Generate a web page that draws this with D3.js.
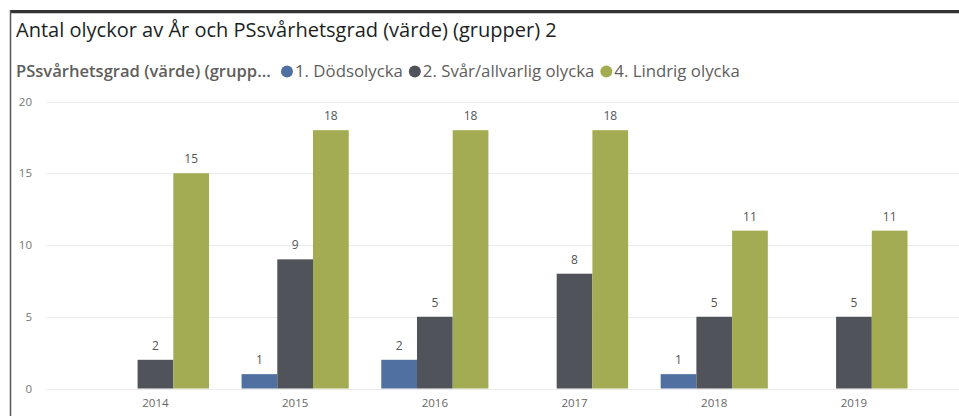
<!DOCTYPE html>
<html>
<head>
<meta charset="utf-8">
<script src="https://cdn.jsdelivr.net/npm/d3@7"></script>
<style>
  html, body { margin: 0; padding: 0; background: #fff; }
  svg { display: block; font-family: "Open Sans", "Noto Sans", sans-serif; }
</style>
</head>
<body>
<svg id="chart" width="959" height="416"></svg>
<script>
const years = ["2014", "2015", "2016", "2017", "2018", "2019"];
const seriesNames = ["1. Dödsolycka", "2. Svår/allvarlig olycka", "4. Lindrig olycka"];
const seriesColors = ["#4f70a1", "#505359", "#a3ac52"];
const dodsolycka = [null, 1, 2, null, 1, null];
const svarAllvarlig = [2, 9, 5, 8, 5, 5];
const lindrig = [15, 18, 18, 18, 11, 11];
const yTicks = [0, 5, 10, 15, 20];
const titleText = "Antal olyckor av År och PSsvårhetsgrad (värde) (grupper) 2";
const legendTitle = "PSsvårhetsgrad (värde) (grupp...";

const seriesValues = [dodsolycka, svarAllvarlig, lindrig];

const svg = d3.select("#chart");

// frame
svg.append("rect").attr("x", 10).attr("y", 13).attr("width", 949).attr("height", 403).attr("fill", "#fff");
svg.append("line").attr("x1", 10).attr("x2", 959).attr("y1", 11.5).attr("y2", 11.5)
  .attr("stroke", "#333").attr("stroke-width", 3);
svg.append("line").attr("x1", 10).attr("x2", 959).attr("y1", 13.5).attr("y2", 13.5)
  .attr("stroke", "#ccc").attr("stroke-width", 1);
svg.append("line").attr("x1", 10.5).attr("x2", 10.5).attr("y1", 10).attr("y2", 416)
  .attr("stroke", "#555").attr("stroke-width", 1.5);

function fitText(sel, targetWidth, startSize) {
  let size = startSize;
  sel.attr("font-size", size);
  const w = sel.node().getComputedTextLength();
  if (w > 0) { size = size * targetWidth / w; sel.attr("font-size", size); }
  return size;
}

// title
const title = svg.append("text").attr("x", 16).attr("y", 37).attr("fill", "#201f1e").text(titleText);
fitText(title, 541, 18);

// legend
const lt = svg.append("text").attr("x", 16).attr("y", 76.5).attr("fill", "#605e5c")
  .attr("font-weight", 600).text(legendTitle);
fitText(lt, 255, 14);

// legend items: common font size fitted to the full item span
const legendStart = 281;
const legendEnd = 740;
const probe = svg.append("g");
let fs = 14;
const texts = seriesNames.map(n => probe.append("text").attr("font-size", fs).text(n));
const widths = texts.map(t => t.node().getComputedTextLength());
probe.remove();
const circleBlock = 14; // circle diameter + gap
const itemGap = 6;
const totalText = d3.sum(widths);
const avail = (legendEnd - legendStart) - 3 * circleBlock - 2 * itemGap;
fs = fs * avail / totalText;
let cx = legendStart;
seriesNames.forEach((name, i) => {
  svg.append("circle").attr("cx", cx + 6).attr("cy", 71.5).attr("r", 6).attr("fill", seriesColors[i]);
  const t = svg.append("text").attr("x", cx + circleBlock).attr("y", 76.5).attr("fill", "#605e5c")
    .attr("font-size", fs).text(name);
  cx = cx + circleBlock + t.node().getComputedTextLength() + itemGap;
});

// scales
const y = d3.scaleLinear().domain([0, 20]).range([388.5, 101.5]);
const x = d3.scaleBand().domain(years).range([85.6, 923.8]).paddingInner(0.233).paddingOuter(0.1165);
const xs = d3.scaleBand().domain(seriesNames).range([0, x.bandwidth()]).padding(0);

// gridlines
svg.append("g").selectAll("line").data(yTicks).join("line")
  .attr("x1", 47).attr("x2", 959)
  .attr("y1", d => Math.round(y(d)) + 0.5).attr("y2", d => Math.round(y(d)) + 0.5)
  .attr("stroke", "#ebebeb").attr("stroke-width", 1);

// y axis labels
const yAxis = svg.append("g").attr("transform", "translate(40,0)")
  .call(d3.axisLeft(y).tickValues(yTicks).tickSize(0).tickPadding(8));
yAxis.select(".domain").remove();
yAxis.selectAll("text").attr("fill", "#777").attr("font-size", 11.5)
  .attr("font-family", "'Open Sans', sans-serif");

// x axis labels
const xAxis = svg.append("g").attr("transform", "translate(0,388.5)")
  .call(d3.axisBottom(x).tickSize(0).tickPadding(10));
xAxis.select(".domain").remove();
xAxis.selectAll("text").attr("fill", "#666").attr("font-size", 11.5)
  .attr("font-family", "'Open Sans', sans-serif");

// bars
const flat = [];
years.forEach((yr, i) => {
  seriesNames.forEach((s, j) => {
    const v = seriesValues[j][i];
    if (v != null) flat.push({ year: yr, series: s, idx: j, value: v });
  });
});

svg.append("g").selectAll("rect").data(flat).join("rect")
  .attr("x", d => x(d.year) + xs(d.series))
  .attr("width", xs.bandwidth())
  .attr("y", d => y(d.value))
  .attr("height", d => y(0) - y(d.value))
  .attr("fill", d => seriesColors[d.idx]);

svg.append("g").selectAll("text").data(flat).join("text")
  .attr("x", d => x(d.year) + xs(d.series) + xs.bandwidth() / 2)
  .attr("y", d => y(d.value) - 10)
  .attr("text-anchor", "middle")
  .attr("fill", "#555")
  .attr("font-size", 12)
  .text(d => d.value);
</script>
</body>
</html>
